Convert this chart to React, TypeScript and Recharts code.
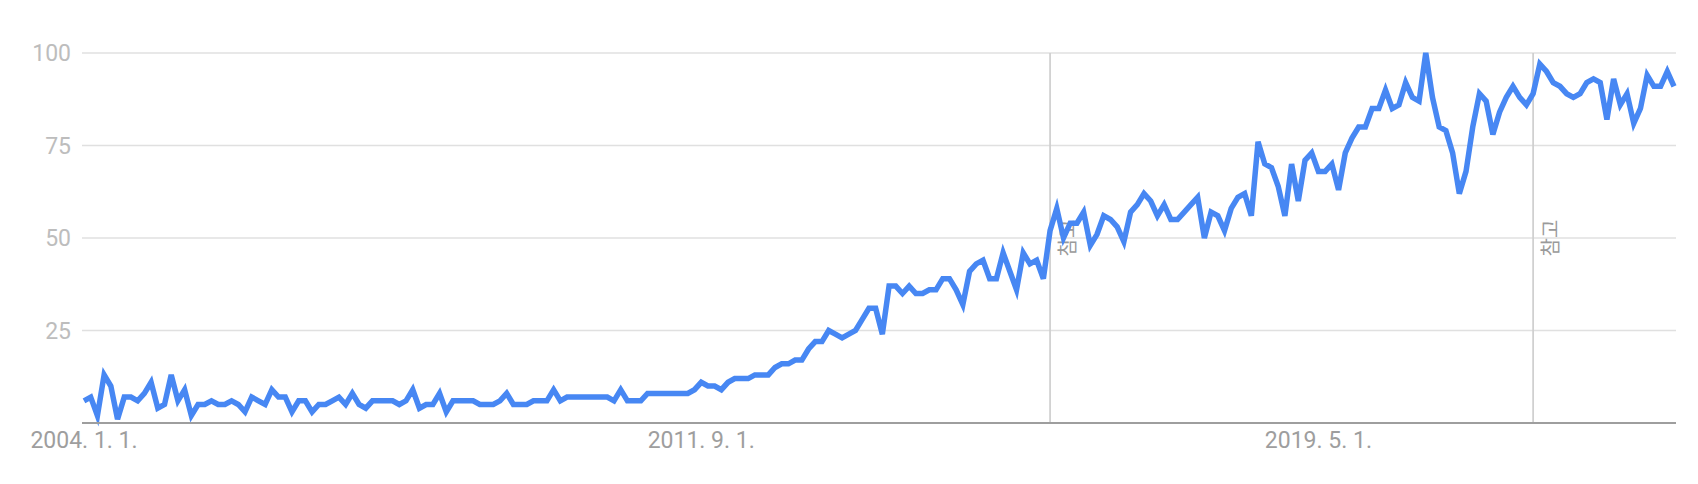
import React from "react";
import { LineChart, Line, XAxis, YAxis, CartesianGrid, ReferenceLine } from "recharts";

const startYear = 2004;
const startMonth = 1;

const values: number[] = [
  // 2004
  6, 7, 2, 13, 10, 1, 7, 7, 6, 8, 11, 4,
  // 2005
  5, 13, 6, 9, 2, 5, 5, 6, 5, 5, 6, 5,
  // 2006
  3, 7, 6, 5, 9, 7, 7, 3, 6, 6, 3, 5,
  // 2007
  5, 6, 7, 5, 8, 5, 4, 6, 6, 6, 6, 5,
  // 2008
  6, 9, 4, 5, 5, 8, 3, 6, 6, 6, 6, 5,
  // 2009
  5, 5, 6, 8, 5, 5, 5, 6, 6, 6, 9, 6,
  // 2010
  7, 7, 7, 7, 7, 7, 7, 6, 9, 6, 6, 6,
  // 2011
  8, 8, 8, 8, 8, 8, 8, 9, 11, 10, 10, 9,
  // 2012
  11, 12, 12, 12, 13, 13, 13, 15, 16, 16, 17, 17,
  // 2013
  20, 22, 22, 25, 24, 23, 24, 25, 28, 31, 31, 24,
  // 2014
  37, 37, 35, 37, 35, 35, 36, 36, 39, 39, 36, 32,
  // 2015
  41, 43, 44, 39, 39, 46, 41, 36, 46, 43, 44, 39,
  // 2016
  52, 58, 50, 54, 54, 57, 48, 51, 56, 55, 53, 49,
  // 2017
  57, 59, 62, 60, 56, 59, 55, 55, 57, 59, 61, 50,
  // 2018
  57, 56, 52, 58, 61, 62, 56, 76, 70, 69, 64, 56,
  // 2019
  70, 60, 71, 73, 68, 68, 70, 63, 73, 77, 80, 80,
  // 2020
  85, 85, 90, 85, 86, 92, 88, 87, 100, 88, 80, 79,
  // 2021
  73, 62, 68, 80, 89, 87, 78, 84, 88, 91, 88, 86,
  // 2022
  89, 97, 95, 92, 91, 89, 88, 89, 92, 93, 92, 82,
  // 2023
  93, 86, 89, 81, 85, 94, 91, 91, 95, 91,
];

const months: string[] = values.map((_, i) => {
  const m = startMonth - 1 + i;
  const y = startYear + Math.floor(m / 12);
  const mm = (m % 12) + 1;
  return `${y}-${mm < 10 ? "0" + mm : mm}`;
});

const xTickMonths = ["2004-01", "2011-09", "2019-05"];
const xTickLabels = ["2004. 1. 1.", "2011. 9. 1.", "2019. 5. 1."];
const yTicks = [25, 50, 75, 100];
const noteMonths = ["2016-01", "2022-01"];
const noteText = "참고";

const data = values.map((v, i) => ({ idx: i, month: months[i], value: v }));
const xTicks = xTickMonths.map((m) => months.indexOf(m));
const noteIdx = noteMonths.map((m) => months.indexOf(m));

const NoteLabel = (props: any) => {
  const vb = props.viewBox || {};
  const x = vb.x + 16;
  const y = vb.y + vb.height / 2;
  return (
    <text
      x={x}
      y={y}
      transform={`rotate(-90 ${x} ${y})`}
      textAnchor="middle"
      dominantBaseline="central"
      fill="#9a9a9a"
      fontSize={20}
      fontFamily="'Noto Sans CJK KR', sans-serif"
    >
      {noteText}
    </text>
  );
};

export default function App() {
  return (
    <div style={{ position: "absolute", left: 0, top: 0, width: 1698, height: 484, background: "#fff" }}>
      <LineChart
        width={1698}
        height={484}
        data={data}
        margin={{ top: 53, right: 22, bottom: 21, left: 0 }}
      >
        <CartesianGrid vertical={false} stroke="#e0e0e0" strokeWidth={1.5} />
        <XAxis
          dataKey="idx"
          type="number"
          domain={[0, values.length - 1]}
          ticks={xTicks}
          interval={0}
          tickFormatter={(v: number) => xTickLabels[xTicks.indexOf(v)] ?? ""}
          padding={{ left: 2, right: 2 }}
          height={40}
          tickLine={false}
          tickSize={0}
          tickMargin={9}
          axisLine={{ stroke: "#9e9e9e", strokeWidth: 2 }}
          tick={{ fill: "#9e9e9e", fontSize: 23, fontFamily: "Roboto" }}
        />
        <YAxis
          domain={[0, 100]}
          ticks={yTicks}
          width={82}
          axisLine={false}
          tickLine={false}
          tickSize={0}
          tickMargin={11}
          tick={{ fill: "#bdbdbd", fontSize: 23, fontFamily: "Roboto" }}
        />
        {noteIdx.map((n) => (
          <ReferenceLine
            key={n}
            x={n}
            stroke="#cfcfcf"
            strokeWidth={1.7}
            label={<NoteLabel />}
          />
        ))}
        <Line
          type="linear"
          dataKey="value"
          stroke="#4787f3"
          strokeWidth={5.5}
          dot={false}
          activeDot={false}
          isAnimationActive={false}
        />
      </LineChart>
    </div>
  );
}
